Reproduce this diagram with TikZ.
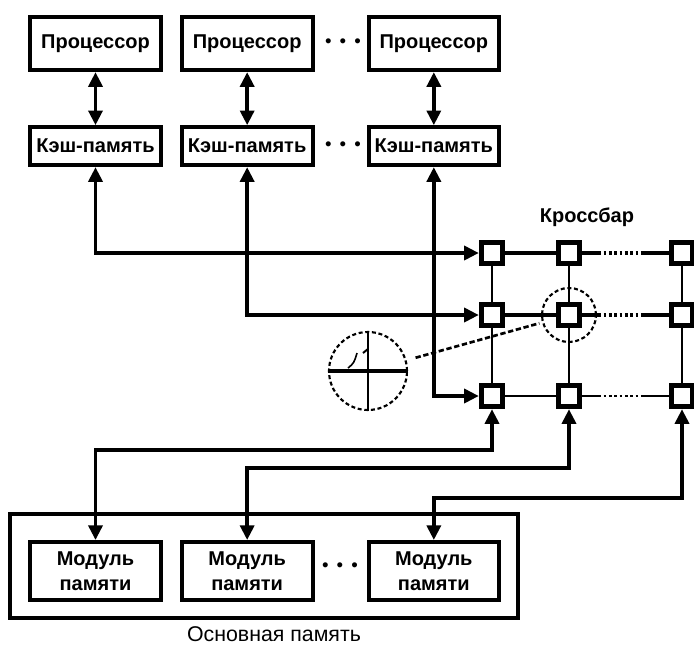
\documentclass[tikz,border=0pt]{standalone}
\usepackage{fontspec}
\setmainfont{Liberation Sans}
\usetikzlibrary{arrows.meta, positioning}

\begin{document}
\begin{tikzpicture}[
        x=0.75pt, y=-0.75pt,
        node distance=39.75pt and 12.75pt,
        proc/.style={rectangle, draw=black, line width=3pt, minimum width=98pt, minimum height=40pt, inner sep=1pt, font=\bfseries\fontsize{15}{18}\selectfont},
        cache/.style={proc, minimum height=28.5pt},
        modul/.style={proc, minimum height=43.5pt, align=center, font=\bfseries\fontsize{15}{18.5}\selectfont},
        cell/.style={rectangle, draw=black, line width=3.8pt, fill=white, minimum size=16pt, inner sep=0pt},
        dots/.style={font=\fontsize{14}{14}\selectfont},
        link/.style={{Triangle[length=11pt,width=10.5pt]}-{Triangle[length=11pt,width=10.5pt]}, line width=2.6pt},
        bar/.style={line width=3pt},
        gap/.style={dash pattern=on 14pt off 2pt on 2pt off 2pt on 2pt off 2pt on 2pt off 2pt on 2pt off 2pt on 2pt off 2pt on 2pt off 2pt on 2pt off 2pt on 40pt off 1pt},
        zoomring/.style={circle, draw=black, line width=1.6pt, dash pattern=on 3pt off 2pt, inner sep=0pt}
    ]
    \useasboundingbox (0,0) rectangle (694,647);

    % processors and caches
    \node (proc1) [proc] at (95.5,43.5) {Процессор};
    \node (proc2) [proc, right=of proc1] {Процессор};
    \node (proc3) [proc, right=39pt of proc2] {Процессор};
    \node (cache1) [cache, below=of proc1] {Кэш-память};
    \node (cache2) [cache, below=of proc2] {Кэш-память};
    \node (cache3) [cache, below=of proc3] {Кэш-память};
    \node (dotsp) [dots] at (343,43) {\textbullet\hspace{6pt}\textbullet\hspace{6pt}\textbullet};
    \node (dotsc) [dots] at (343,146) {\textbullet\hspace{6pt}\textbullet\hspace{6pt}\textbullet};

    \draw [link] (proc1) -- (cache1);
    \draw [link] (proc2) -- (cache2);
    \draw [link] (proc3) -- (cache3);

    % crossbar
    \node (xlabel) [font=\bfseries\fontsize{15}{18}\selectfont] at (587,217) {Кроссбар};
    \node (c11) [cell] at (492,253) {};
    \node (c12) [cell] at (569,253) {};
    \node (c13) [cell] at (682,253) {};
    \node (c21) [cell] at (492,315) {};
    \node (c22) [cell] at (569,315) {};
    \node (c23) [cell] at (682,315) {};
    \node (c31) [cell] at (492,396) {};
    \node (c32) [cell] at (569,396) {};
    \node (c33) [cell] at (682,396) {};

    \draw [bar] (c11) -- (c12);
    \draw [bar] (c21) -- (c22);
    \draw [line width=1.6pt] (c31) -- (c32);
    \draw [bar, gap] (c12.east) -- (c13.west);
    \draw [bar, gap] (c22.east) -- (c23.west);
    \draw [line width=2pt, gap] (c32.east) -- (c33.west);
    \draw [line width=2pt] (c11) -- (c21) -- (c31);
    \draw [line width=2pt] (c12) -- (c22) -- (c32);
    \draw [line width=2pt] (c13) -- (c23) -- (c33);

    \draw [link] (cache1.south) |- (c11.west);
    \draw [link] (cache2.south) |- (c21.west);
    \draw [link] (cache3.south) |- (c31.west);

    % magnified crosspoint
    \node (ring) [zoomring, minimum size=40.5pt] at (c22) {};
    \node (lens) [zoomring, minimum size=58.5pt] at (368,371) {};
    \draw [line width=3pt] (lens.west) -- (lens.east);
    \draw [line width=1.5pt] (lens.north) -- (lens.south);
    \draw [line width=1.2pt] ([shift={(-20,-3)}]lens.center) .. controls ([shift={(-14,-8)}]lens.center) .. ([shift={(-11,-18)}]lens.center);
    \draw [line width=1.5pt] ([shift={(-5,-18)}]lens.center) -- ([shift={(0,-22)}]lens.center);
    \draw [line width=2pt, dash pattern=on 4pt off 2pt, shorten <=7pt, shorten >=2pt] (lens) -- (ring);

    % main memory
    \node (mem) [rectangle, draw=black, line width=3pt, minimum width=381pt, minimum height=78pt] at (264,566) {};
    \node (mod1) [modul] at (95.5,571) {Модуль\\памяти};
    \node (mod2) [modul, right=of mod1] {Модуль\\памяти};
    \node (mod3) [modul, right=39pt of mod2] {Модуль\\памяти};
    \node (dotsm) [dots] at (340,567) {\textbullet\hspace{6pt}\textbullet\hspace{6pt}\textbullet};
    \node (memlabel) [font=\fontsize{16}{18}\selectfont, anchor=base] at (274,641) {Основная память};

    \draw [link] (c31.south) -- ++(0,41) -| (mod1.north);
    \draw [link] (c32.south) -- ++(0,59) -| (mod2.north);
    \draw [link] (c33.south) -- ++(0,89) -| (mod3.north);
\end{tikzpicture}
\end{document}
